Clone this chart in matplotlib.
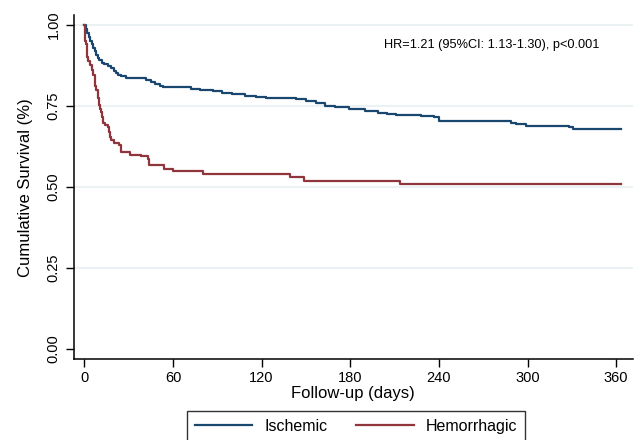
import matplotlib.pyplot as plt

plt.rcParams['font.family'] = ['Liberation Sans', 'DejaVu Sans']

# Kaplan-Meier curves (days, survival)
isch_days = [0, 1, 2, 3, 4, 5, 6, 7, 8, 9, 10, 12, 13.5, 16, 18, 20, 21.5, 23, 25, 28,
             30, 42, 45, 48, 51, 53, 64, 72, 78, 87, 93, 100, 109, 116, 123, 143, 150,
             157, 163, 170, 179, 190, 199, 205, 211, 228, 237, 240, 276, 289, 292, 299,
             328, 331, 363]
isch_surv = [1.0, 0.987, 0.975, 0.963, 0.95, 0.94, 0.928, 0.918, 0.908, 0.898, 0.890,
             0.882, 0.878, 0.872, 0.866, 0.856, 0.851, 0.846, 0.841, 0.837, 0.836, 0.829,
             0.824, 0.817, 0.811, 0.809, 0.807, 0.802, 0.799, 0.796, 0.790, 0.786, 0.781,
             0.776, 0.773, 0.771, 0.765, 0.757, 0.750, 0.745, 0.739, 0.733, 0.727, 0.724,
             0.720, 0.718, 0.714, 0.704, 0.702, 0.697, 0.694, 0.687, 0.684, 0.677, 0.677]

hem_days = [0, 0.3, 1, 2, 2.5, 4, 5, 6, 7, 7.5, 8, 9, 9.7, 10.5, 11.2, 12, 12.8, 14,
            15.7, 16.5, 17.3, 18, 20.3, 23.6, 24.7, 30.8, 38.2, 42.8, 43.5, 54, 58.6,
            59.7, 80, 139.5, 149, 214, 363]
hem_surv = [1.0, 0.949, 0.939, 0.90, 0.888, 0.875, 0.86, 0.845, 0.83, 0.81, 0.797, 0.775,
            0.752, 0.74, 0.731, 0.714, 0.696, 0.69, 0.683, 0.67, 0.655, 0.644, 0.634,
            0.628, 0.606, 0.598, 0.595, 0.587, 0.567, 0.556, 0.554, 0.548, 0.539, 0.529,
            0.519, 0.509, 0.509]

xticks = [0, 60, 120, 180, 240, 300, 360]
yticks = [0, 0.25, 0.5, 0.75, 1.0]
annot = 'HR=1.21 (95%CI: 1.13-1.30), p<0.001'

fig = plt.figure(figsize=(6.4, 4.4), dpi=100)
ax = fig.add_axes([0.1156, 0.183, 0.873, 0.783])

ax.step(isch_days, isch_surv, where='post', color='#1a476f', lw=1.6, label='Ischemic')
ax.step(hem_days, hem_surv, where='post', color='#90353b', lw=1.6, label='Hemorrhagic')

ax.set_xlim(-7.0, 371.2)
ax.set_ylim(-0.0327, 1.030)
ax.set_xticks(xticks)
ax.set_yticks(yticks)
ax.set_yticklabels(['%.2f' % v for v in yticks], rotation=90, va='center')
ax.tick_params(labelsize=10.5, length=6, width=1, direction='out')
ax.tick_params(axis='x', pad=2)

ax.yaxis.grid(True, color='#eaf2f3', lw=1.5)
ax.get_ygridlines()[0].set_visible(False)
ax.set_axisbelow(True)

for s in ['top', 'right']:
    ax.spines[s].set_visible(False)
ax.spines['left'].set_linewidth(1.1)
ax.spines['bottom'].set_linewidth(1.1)

ax.set_ylabel('Cumulative Survival (%)', fontsize=12, labelpad=10)
ax.set_xlabel('Follow-up (days)', fontsize=12, labelpad=1)

ax.text(276, 0.938, annot, fontsize=9.2, ha='center', va='center')

leg = fig.legend(loc='upper center', bbox_to_anchor=(0.556, 0.066), ncol=2,
                 fontsize=11.5, frameon=True, fancybox=False, edgecolor='black',
                 handlelength=3.6, handletextpad=0.75, columnspacing=1.8,
                 borderpad=0.5, borderaxespad=0)
leg.get_frame().set_linewidth(1.0)

fig.savefig('out.png', dpi=100)
